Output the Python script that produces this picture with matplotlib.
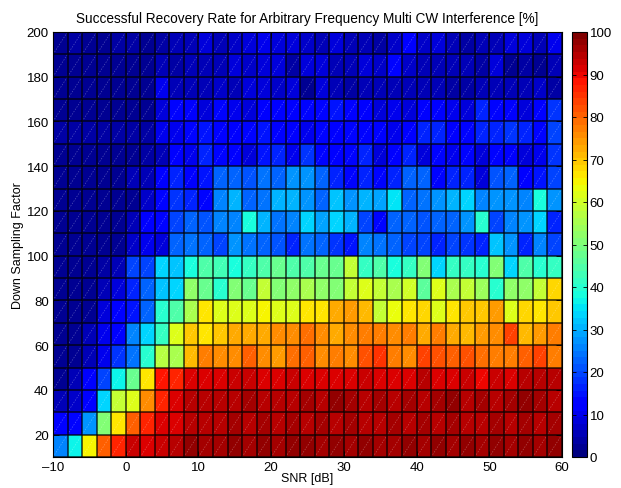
import numpy as np
import matplotlib
matplotlib.use("Agg")
import matplotlib.pyplot as plt
from matplotlib.collections import LineCollection

plt.rcParams['font.family'] = ['Liberation Sans', 'DejaVu Sans']

# SNR bin edges [dB] and down-sampling factor bin edges
snr_edges = list(range(-10, 61, 2))
dsf_edges = list(range(10, 201, 10))
x_ticks = [-10, 0, 10, 20, 30, 40, 50, 60]
y_ticks = [20, 40, 60, 80, 100, 120, 140, 160, 180, 200]
cbar_ticks = [0, 10, 20, 30, 40, 50, 60, 70, 80, 90, 100]

# success rate [%], rows from bottom (factor 10-20) to top (190-200)
row_010 = [25,37,65,80,87,93,92,93,95,97,96,96,97,96,97,96,97,98,96,97,96,97,96,96,97,96,97,96,97,96,97,96,97,96,97]
row_020 = [12,14,28,50,67,80,86,92,92,94,95,95,96,95,96,95,96,95,96,95,96,95,95,96,95,96,95,96,95,95,96,95,96,95,96]
row_030 = [5,7,12,33,58,62,75,87,92,95,94,95,94,96,95,94,95,96,95,97,96,95,96,95,96,95,96,97,95,96,95,96,97,96,95]
row_040 = [3,6,12,20,37,47,67,88,86,92,91,92,93,93,92,92,93,92,92,92,91,93,92,91,92,94,92,91,93,90,93,92,94,95,94]
row_050 = [3,3,5,10,18,24,40,57,56,71,77,76,75,80,76,74,79,80,76,77,76,82,85,78,75,83,82,81,82,79,78,77,80,84,78]
row_060 = [3,3,5,10,12,25,34,42,62,70,66,70,73,72,72,75,75,79,75,72,76,77,78,76,77,72,77,73,71,74,75,84,71,74,78]
row_070 = [3,3,3,8,12,15,22,40,45,55,66,62,62,62,65,62,61,67,67,72,74,71,59,64,67,68,62,67,70,70,74,62,68,67,70]
row_080 = [3,3,3,5,9,17,22,32,34,52,48,40,50,48,58,50,52,56,52,50,58,62,58,55,60,46,62,55,58,54,40,53,52,58,68]
row_090 = [3,3,3,4,5,20,20,33,32,38,45,43,38,42,44,47,45,44,47,48,58,42,44,38,42,50,34,42,42,40,50,34,44,40,42]
row_100 = [3,3,3,3,3,7,10,8,22,24,22,19,28,24,23,21,17,24,22,18,15,26,24,22,20,19,17,20,18,16,32,28,17,25,20]
row_110 = [3,3,3,3,3,6,12,13,19,23,21,26,26,38,30,24,26,33,29,33,31,20,14,23,23,21,23,22,27,40,20,26,28,33,16]
row_120 = [3,3,3,3,3,3,7,13,18,17,13,26,30,22,24,30,31,27,22,32,28,31,29,35,23,24,28,30,33,26,27,28,25,38,28]
row_130 = [3,3,3,3,3,5,5,12,16,12,15,22,23,21,24,22,28,27,22,17,13,16,14,16,23,23,14,16,17,9,21,23,11,15,20]
row_140 = [3,3,3,3,3,3,4,5,12,10,17,13,12,9,15,16,10,18,13,11,14,17,9,11,16,8,13,10,14,9,13,11,9,10,18]
row_150 = [4,4,4,4,4,4,4,10,10,14,15,12,12,13,15,12,12,10,14,12,13,13,11,10,12,17,17,12,14,17,16,18,17,13,19]
row_160 = [3,3,3,3,3,3,3,9,13,12,8,13,10,9,12,11,11,14,13,15,12,12,9,10,9,12,12,10,8,17,13,11,9,12,18]
row_170 = [3,3,3,3,3,3,3,10,5,6,6,7,6,9,9,7,8,3,9,6,4,5,6,5,6,5,6,4,4,5,6,5,6,7,4]
row_180 = [3,3,3,3,3,3,3,5,4,6,5,6,8,7,9,8,4,9,8,5,6,8,7,13,7,6,6,5,6,4,8,3,4,3,5]
row_190 = [3,4,3,3,4,4,3,4,5,5,9,6,7,9,10,9,8,7,6,9,6,5,4,7,11,7,8,5,4,6,5,9,8,6,10]

rates = np.array([row_010, row_020, row_030, row_040, row_050, row_060, row_070,
                  row_080, row_090, row_100, row_110, row_120, row_130, row_140,
                  row_150, row_160, row_170, row_180, row_190], dtype=float)

cmap = plt.get_cmap('jet', 64)

fig = plt.figure(figsize=(6.21, 4.89), dpi=100)
ax = fig.add_axes([53/621, 31/489, 509/621, 425/489])
cax = fig.add_axes([572/621, 31/489, 15/621, 425/489])

X, Y = np.meshgrid(snr_edges, dsf_edges)
mesh = ax.pcolormesh(X, Y, rates, cmap=cmap, vmin=0, vmax=100,
                     edgecolors='none', linewidth=0)

# faint diagonal rendering artefacts across each cell
segs = []
for i in range(len(dsf_edges) - 1):
    for j in range(len(snr_edges) - 1):
        segs.append([(snr_edges[j], dsf_edges[i]), (snr_edges[j + 1], dsf_edges[i + 1])])
ax.add_collection(LineCollection(segs, colors=(1, 1, 1, 0.32), linewidths=0.5,
                                 linestyles=(0, (2, 2)), zorder=2))

# cell edges
vl = ax.vlines(snr_edges, dsf_edges[0], dsf_edges[-1], colors='black',
               linewidth=1.1, alpha=0.8, zorder=3)
hl = ax.hlines(dsf_edges, snr_edges[0], snr_edges[-1], colors='black',
               linewidth=1.1, alpha=0.8, zorder=3)
vl.set_snap(True)
hl.set_snap(True)

ax.set_xlim(-10, 60)
ax.set_ylim(10, 200)
ax.set_xticks(x_ticks)
ax.set_yticks(y_ticks)
ax.set_xticklabels([str(v).replace('-', '\u2013') for v in x_ticks])
ax.tick_params(direction='in', top=True, right=True, labelsize=9.5, length=4,
               width=0.6, pad=3)
for s in ax.spines.values():
    s.set_linewidth(0.8)
    s.set_zorder(4)

ax.set_xlabel('SNR [dB]', fontsize=9, labelpad=-1)
ax.set_ylabel('Down Sampling Factor', fontsize=9, labelpad=2)
ax.set_title('Successful Recovery Rate for Arbitrary Frequency Multi CW Interference [%]',
             fontsize=9.8, pad=7)

cb = fig.colorbar(mesh, cax=cax, ticks=cbar_ticks)
cb.ax.tick_params(direction='in', left=True, right=True, labelsize=9.5, length=3,
                  width=0.6, pad=2)
cb.outline.set_linewidth(0.8)

fig.savefig('out.png', dpi=100)
